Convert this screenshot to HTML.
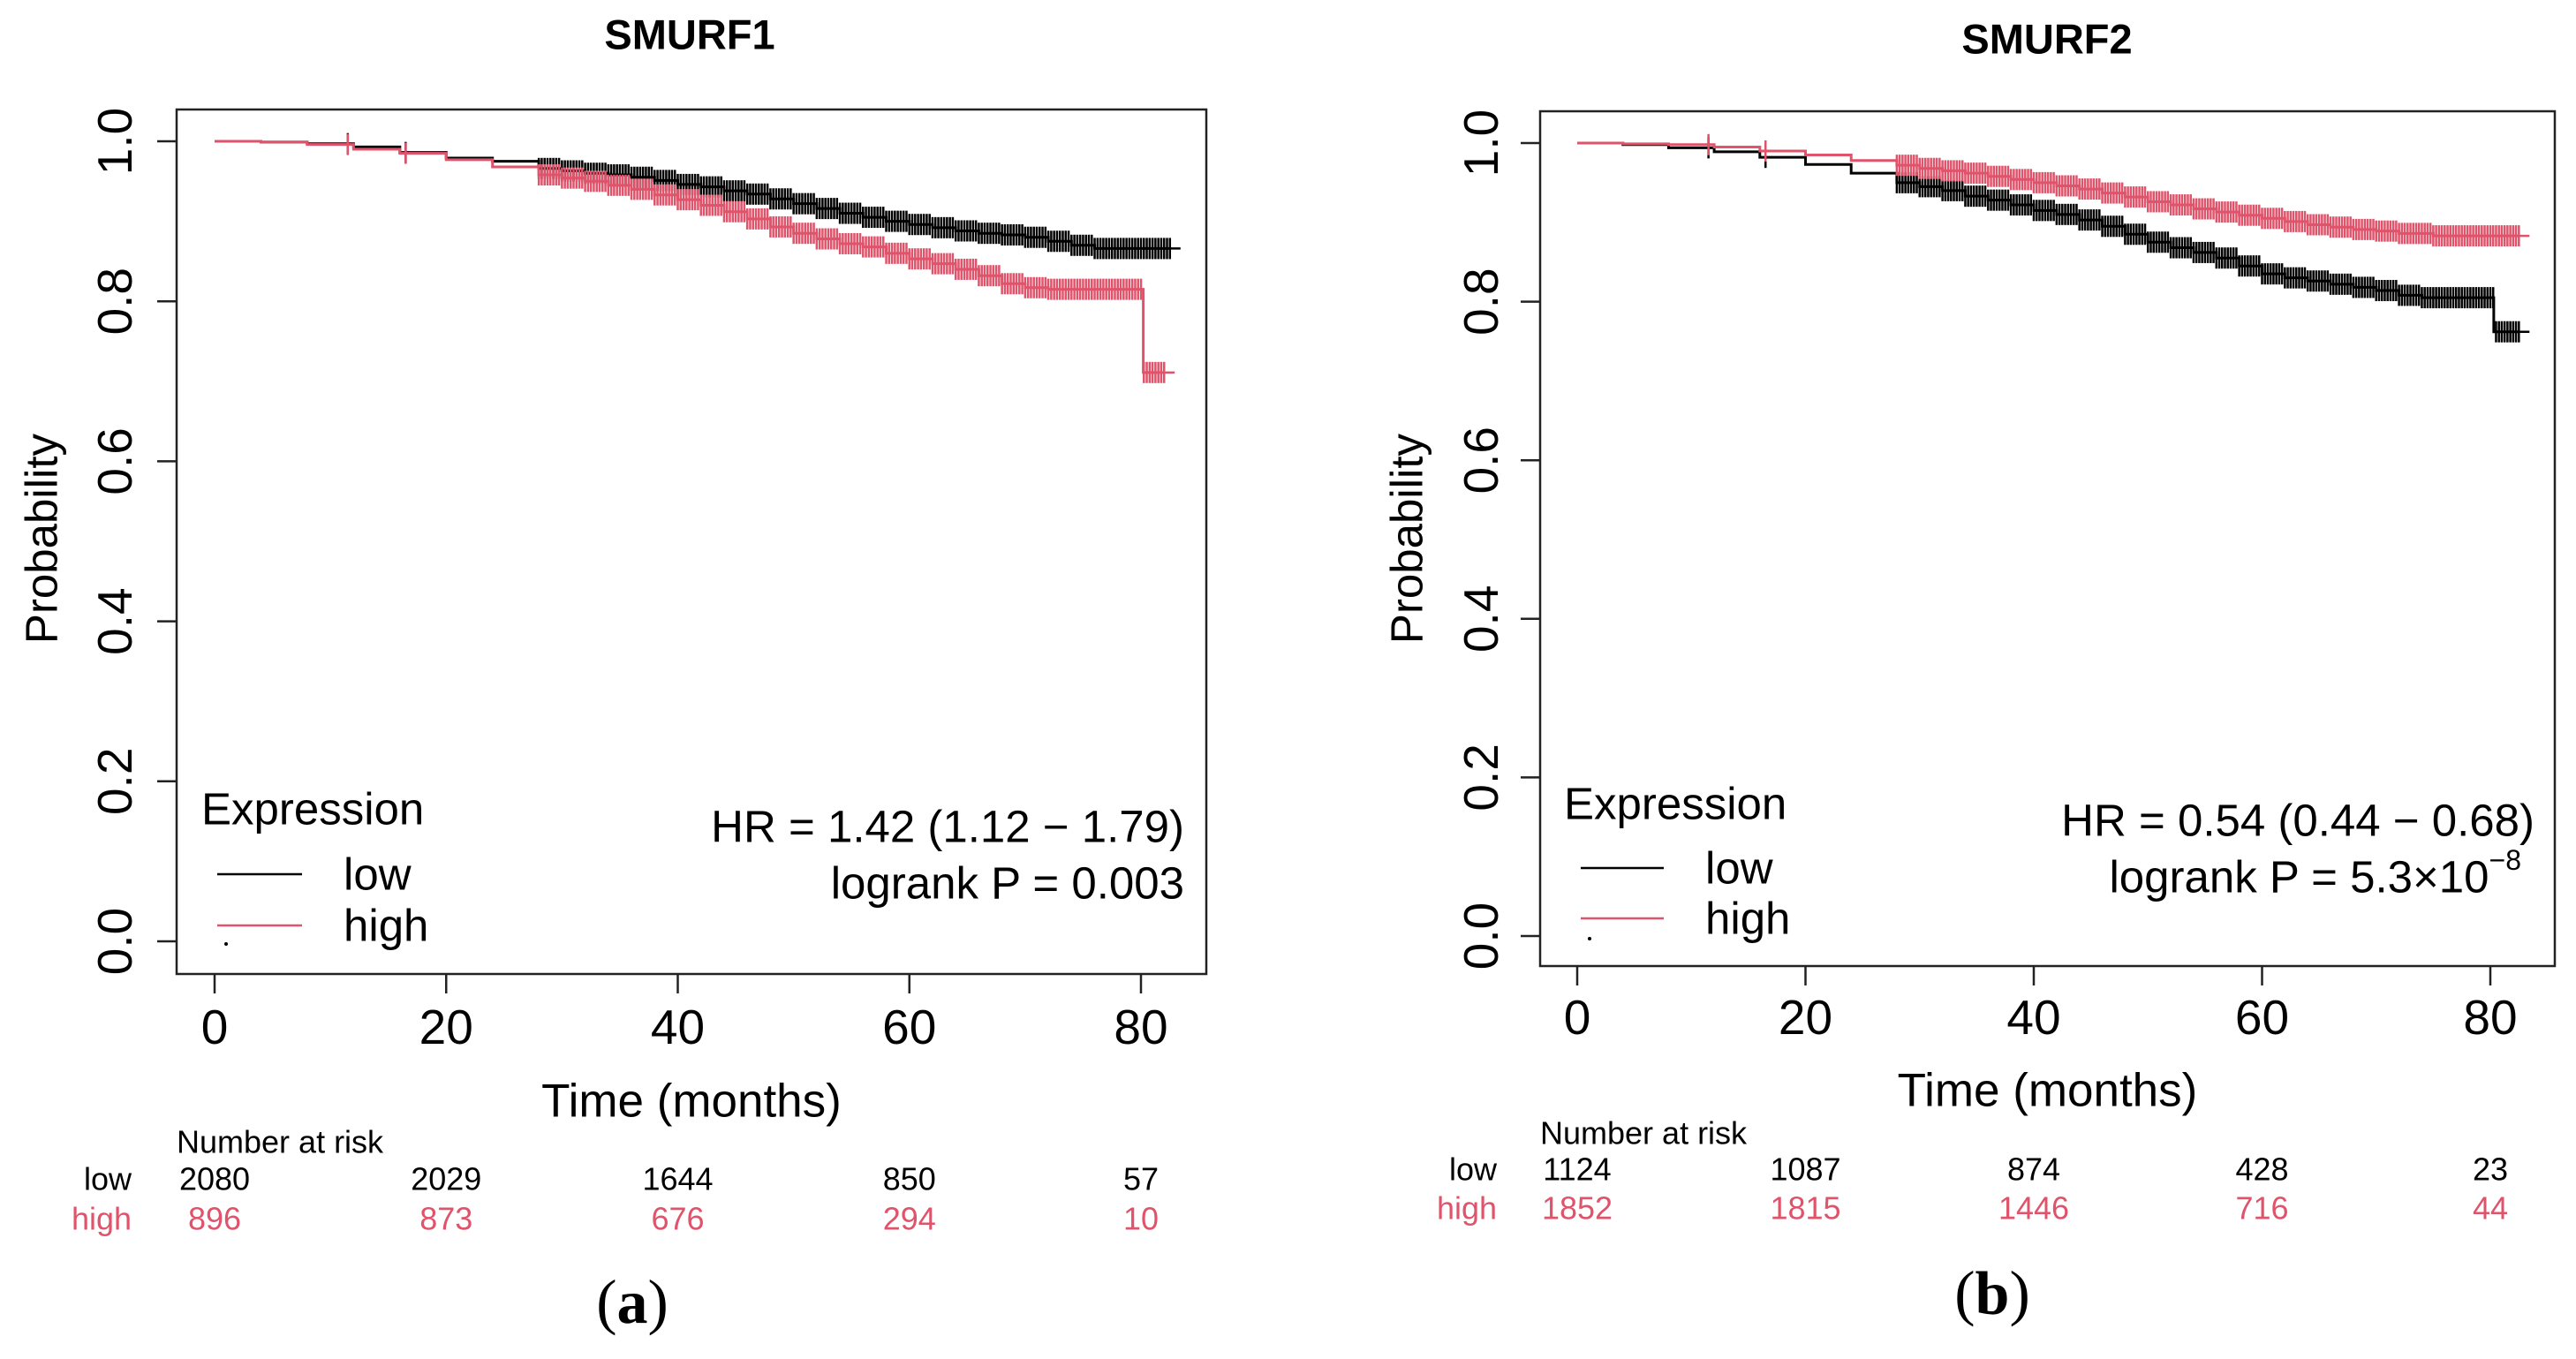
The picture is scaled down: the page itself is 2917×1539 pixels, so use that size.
<!DOCTYPE html>
<html><head><meta charset="utf-8"><style>
html,body{margin:0;padding:0;background:#fff;}
svg{display:block;font-family:"Liberation Sans",Arial,sans-serif;}
</style></head><body>
<svg id="fig" width="2917" height="1539" viewBox="0 0 2917 1539" xmlns="http://www.w3.org/2000/svg"></svg>
<script>
// ---- Panel A data (SMURF1) ----
const aLowT = [0, 4, 8, 12, 16, 20, 24, 28, 30, 32, 34, 36, 38, 40, 42, 44, 46, 48, 50, 52, 54, 56, 58, 60, 62, 64, 66, 68, 70, 72, 74, 76, 82.5];
const aLowS = [1.0, 0.999, 0.997, 0.993, 0.986, 0.979, 0.975, 0.966, 0.963, 0.960, 0.958, 0.955, 0.951, 0.946, 0.943, 0.938, 0.934, 0.928, 0.922, 0.916, 0.910, 0.905, 0.900, 0.896, 0.892, 0.888, 0.885, 0.883, 0.880, 0.875, 0.870, 0.866, 0.866];
const aHighT = [0, 4, 8, 12, 16, 20, 24, 28, 30, 32, 34, 36, 38, 40, 42, 44, 46, 48, 50, 52, 54, 56, 58, 60, 62, 64, 66, 68, 70, 72, 80, 80.2, 82];
const aHighS = [1.0, 0.999, 0.996, 0.990, 0.985, 0.977, 0.968, 0.958, 0.954, 0.950, 0.945, 0.940, 0.933, 0.927, 0.920, 0.912, 0.903, 0.893, 0.885, 0.878, 0.872, 0.868, 0.860, 0.853, 0.847, 0.840, 0.832, 0.822, 0.817, 0.815, 0.815, 0.711, 0.711];
const aRiskLow = ["2080", "2029", "1644", "850", "57"];
const aRiskHigh = ["896", "873", "676", "294", "10"];
// ---- Panel B data (SMURF2) ----
const bLowT = [0, 4, 8, 12, 16, 20, 24, 28, 30, 32, 34, 36, 38, 40, 42, 44, 46, 48, 50, 52, 54, 56, 58, 60, 62, 64, 66, 68, 70, 72, 74, 80, 80.3, 82.5];
const bLowS = [1.0, 0.998, 0.994, 0.989, 0.982, 0.973, 0.962, 0.950, 0.945, 0.940, 0.933, 0.928, 0.922, 0.915, 0.910, 0.903, 0.895, 0.885, 0.875, 0.868, 0.862, 0.855, 0.845, 0.835, 0.830, 0.826, 0.822, 0.818, 0.814, 0.808, 0.805, 0.805, 0.762, 0.762];
const bHighT = [0, 4, 8, 12, 16, 20, 24, 28, 30, 32, 34, 36, 38, 40, 42, 44, 46, 48, 50, 52, 54, 56, 58, 60, 62, 64, 66, 68, 70, 72, 75, 82.5];
const bHighS = [1.0, 0.999, 0.998, 0.995, 0.990, 0.985, 0.978, 0.972, 0.968, 0.965, 0.962, 0.958, 0.954, 0.950, 0.946, 0.942, 0.937, 0.932, 0.926, 0.922, 0.917, 0.913, 0.909, 0.905, 0.901, 0.897, 0.894, 0.891, 0.889, 0.886, 0.883, 0.883];
const bRiskLow = ["1124", "1087", "874", "428", "23"];
const bRiskHigh = ["1852", "1815", "1446", "716", "44"];
const xTicks = [0, 20, 40, 60, 80];
const yTicks = [0, 0.2, 0.4, 0.6, 0.8, 1.0];
const yTickLabels = ["0.0", "0.2", "0.4", "0.6", "0.8", "1.0"];

const NS = "http://www.w3.org/2000/svg";
const svg = document.getElementById('fig');
const RED = "#DF536B";
function mk(tag, attrs, parent, text) {
  const e = document.createElementNS(NS, tag);
  for (const k in attrs) e.setAttribute(k, attrs[k]);
  if (text !== undefined) e.textContent = text;
  (parent || svg).appendChild(e);
  return e;
}

function panel(P) {
  const g = mk('g', {});
  
  
  const X = t => P.x0 + (P.x80 - P.x0) * t / 80;
  const Y = s => P.y0 + (P.y1 - P.y0) * s;
  let e;
  e = mk('text', {x: P.titleX, y: P.titleY, 'font-size': 47, 'font-weight': 'bold', 'text-anchor': 'middle', 'dominant-baseline': 'central'}, g, P.title);
  
  
  e = mk('rect', {x: P.bl, y: P.bt, width: P.br - P.bl, height: P.bb - P.bt, fill: 'none', stroke: '#222', 'stroke-width': 2.5}, g);
  
  
  const ya = mk('g', {}, g);
  
  
  yTicks.forEach((v, i) => {
    const t = mk('line', {x1: P.bl - 22, x2: P.bl, y1: Y(v), y2: Y(v), stroke: '#222', 'stroke-width': 2.5}, ya);
    
    
    const l = mk('text', {x: P.ylabX, y: Y(v), 'font-size': 55, 'text-anchor': 'middle', 'dominant-baseline': 'central', transform: `rotate(-90 ${P.ylabX} ${Y(v)})`}, ya, yTickLabels[i]);
    
    
  });
  e = mk('text', {x: P.ytitleX, y: 610, 'font-size': 51, 'text-anchor': 'middle', 'dominant-baseline': 'central', transform: `rotate(-90 ${P.ytitleX} 610)`}, g, 'Probability');
  
  
  const xa = mk('g', {}, g);
  
  
  xTicks.forEach((v, i) => {
    const t = mk('line', {x1: X(v), x2: X(v), y1: P.bb, y2: P.bb + 22, stroke: '#222', 'stroke-width': 2.5}, xa);
    
    
    const l = mk('text', {x: X(v), y: P.xlabY, 'font-size': 55, 'text-anchor': 'middle', 'dominant-baseline': 'central'}, xa, String(v));
    
    
    const r1 = mk('text', {x: X(v), y: P.lowY, 'font-size': 36, 'text-anchor': 'middle', 'dominant-baseline': 'central'}, g, P.riskLow[i]);
    
    
    const r2 = mk('text', {x: X(v), y: P.highY, 'font-size': 36, fill: RED, 'text-anchor': 'middle', 'dominant-baseline': 'central'}, g, P.riskHigh[i]);
    
    
  });
  e = mk('text', {x: (P.bl + P.br) / 2, y: P.xtitleY, 'font-size': 53, 'text-anchor': 'middle', 'dominant-baseline': 'central'}, g, 'Time (months)');
  
  
  e = mk('text', {x: P.bl, y: P.narY, 'font-size': 36, 'dominant-baseline': 'central'}, g, 'Number at risk');
  
  
  e = mk('text', {x: P.rowLabR, y: P.lowY, 'font-size': 36, 'text-anchor': 'end', 'dominant-baseline': 'central'}, g, 'low');
  
  
  e = mk('text', {x: P.rowLabR, y: P.highY, 'font-size': 36, fill: RED, 'text-anchor': 'end', 'dominant-baseline': 'central'}, g, 'high');
  
  
  function curve(T, S, color, name) {
    let d = `M${X(T[0])},${Y(S[0])}`;
    for (let i = 1; i < T.length; i++) d += ` H${X(T[i])} V${Y(S[i])}`;
    const c = mk('path', {d: d, fill: 'none', stroke: color, 'stroke-width': 3}, g);
    
    
    const cg = mk('g', {stroke: color, 'stroke-width': 2.5}, g);
    
    
    const sAt = t => { let s = S[0]; for (let i = 0; i < T.length; i++) if (T[i] <= t) s = S[i]; return s; };
    const times = [11.5, 16.5];
    const tEnd = T[T.length - 1];
    for (let t = 28; t <= tEnd; t += 0.25) times.push(t);
    times.forEach(t => {
      const cx = X(t), cy = Y(sAt(t));
      mk('line', {x1: cx, x2: cx, y1: cy - 12, y2: cy + 12}, cg);
    });
    mk('line', {x1: X(tEnd) - 12, x2: X(tEnd) + 12, y1: Y(S[S.length - 1]), y2: Y(S[S.length - 1])}, cg);
  }
  curve(P.lowT, P.lowS, '#000', 'low');
  curve(P.highT, P.highS, RED, 'high');
  const lg = mk('g', {}, g);
  
  
  mk('text', {x: P.legX, y: P.legY, 'font-size': 51, 'dominant-baseline': 'central'}, lg, 'Expression');
  e = mk('line', {x1: P.legL1, x2: P.legL2, y1: P.legLowY, y2: P.legLowY, stroke: '#000', 'stroke-width': 2.5}, lg);
  
  
  mk('text', {x: P.legTx, y: P.legLowY, 'font-size': 51, 'dominant-baseline': 'central'}, lg, 'low');
  e = mk('line', {x1: P.legL1, x2: P.legL2, y1: P.legHighY, y2: P.legHighY, stroke: RED, 'stroke-width': 2.5}, lg);
  
  
  mk('text', {x: P.legTx, y: P.legHighY, 'font-size': 51, 'dominant-baseline': 'central'}, lg, 'high');
  mk('circle', {cx: P.legL1 + 10, cy: Y(0) + 3, r: 2, fill: '#000'}, lg);
  e = mk('text', {x: P.hrR, y: P.hrY, 'font-size': 51, 'text-anchor': 'end', 'dominant-baseline': 'central'}, g, P.hr);
  
  
  e = mk('text', {x: P.pR, y: P.pY, 'font-size': 51, 'text-anchor': 'end', 'dominant-baseline': 'central'}, g);
  
  
  e.appendChild(document.createTextNode(P.p));
  if (P.pSup) { mk('tspan', {'font-size': 32, dy: -19}, e, P.pSup); }
  e = mk('text', {x: P.capX, y: P.capY, 'font-size': 70, 'font-family': '"Liberation Serif",serif', 'text-anchor': 'middle', 'dominant-baseline': 'central'}, g);
  
  
  e.appendChild(document.createTextNode('('));
  mk('tspan', {'font-weight': 'bold'}, e, P.cap);
  e.appendChild(document.createTextNode(')'));
}

panel({id: 'smurf1', title: 'SMURF1', titleX: 781, titleY: 39,
  bl: 200, bt: 124, br: 1366, bb: 1103, x0: 243, x80: 1292, y0: 1066, y1: 160,
  ylabX: 130, ytitleX: 47, xlabY: 1163, xtitleY: 1247, narY: 1293, lowY: 1335, highY: 1380, rowLabR: 149,
  lowT: aLowT, lowS: aLowS, highT: aHighT, highS: aHighS, riskLow: aRiskLow, riskHigh: aRiskHigh,
  legX: 228, legY: 916, legLowY: 990, legHighY: 1048, legL1: 246, legL2: 342, legTx: 389,
  hrR: 1341, hrY: 936, pR: 1341, pY: 1000, hr: 'HR = 1.42 (1.12 \u2212 1.79)', p: 'logrank P = 0.003', pSup: '',
  capX: 716, capY: 1475, cap: 'a'});
panel({id: 'smurf2', title: 'SMURF2', titleX: 2318, titleY: 44,
  bl: 1744, bt: 126, br: 2893, bb: 1094, x0: 1786, x80: 2820, y0: 1060, y1: 162,
  ylabX: 1677, ytitleX: 1593, xlabY: 1152, xtitleY: 1235, narY: 1283, lowY: 1324, highY: 1368, rowLabR: 1695,
  lowT: bLowT, lowS: bLowS, highT: bHighT, highS: bHighS, riskLow: bRiskLow, riskHigh: bRiskHigh,
  legX: 1771, legY: 910, legLowY: 983, legHighY: 1040, legL1: 1790, legL2: 1884, legTx: 1931,
  hrR: 2870, hrY: 929, pR: 2855, pY: 993, hr: 'HR = 0.54 (0.44 \u2212 0.68)', p: 'logrank P = 5.3\u00d710', pSup: '\u22128',
  capX: 2256, capY: 1465, cap: 'b'});
</script>
</body></html>
